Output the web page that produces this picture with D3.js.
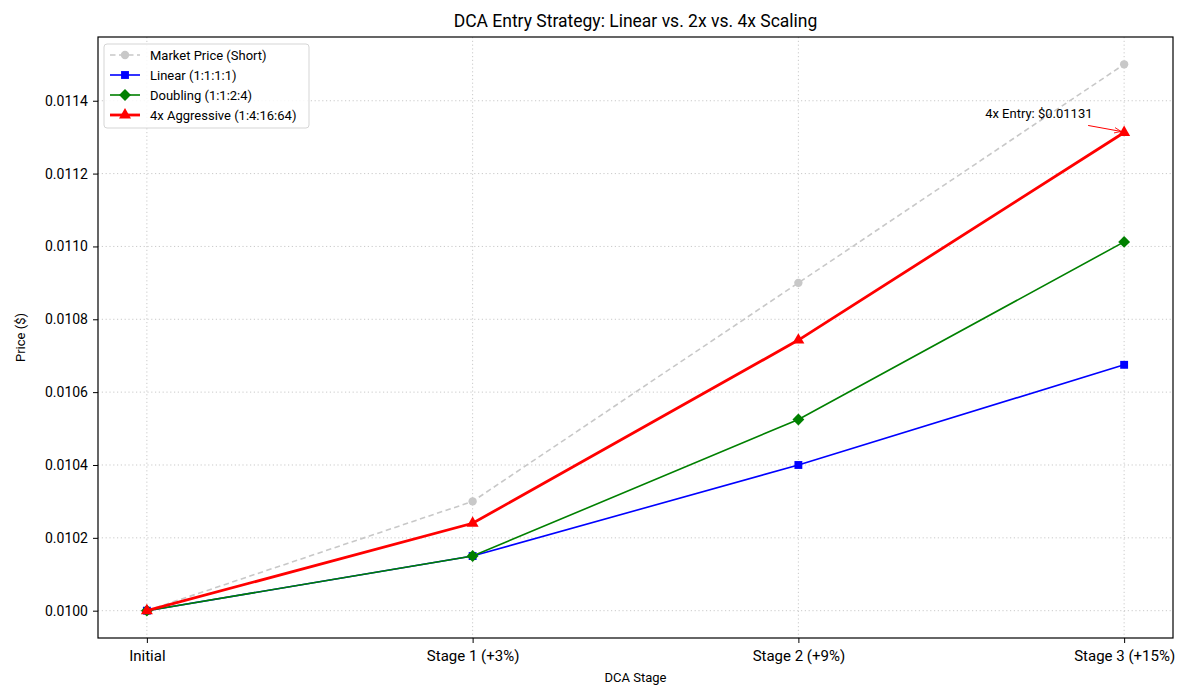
<!DOCTYPE html>
<html>
<head>
<meta charset="utf-8">
<script src="https://cdn.jsdelivr.net/npm/d3@7"></script>
<style>
  body { margin: 0; background: #fff; }
  text { font-family: Roboto, "Open Sans", sans-serif; fill: #000; }
  .grid line { stroke: #bdbdbd; stroke-dasharray: 1.2 2.6; stroke-width: 0.8; }
</style>
</head>
<body>
<div id="container"></div>
<script>
/* DATA */
const stages = ["Initial", "Stage 1 (+3%)", "Stage 2 (+9%)", "Stage 3 (+15%)"]
const marketPrice = [0.0100, 0.0103, 0.0109, 0.0115]
const linearAvg = [0.0100, 0.01015, 0.0104, 0.010675]
const doublingAvg = [0.0100, 0.01015, 0.010525, 0.0110125]
const aggressiveAvg = [0.0100, 0.01024, 0.0107429, 0.0113129]
const yTicks = [0.0100, 0.0102, 0.0104, 0.0106, 0.0108, 0.0110, 0.0112, 0.0114]

/* CONSTANTS */
const width = 1200, height = 700
const margin = { left: 98, right: 27, top: 37, bottom: 62 }

const svg = d3.select("#container")
  .append("svg")
  .attr("width", width)
  .attr("height", height)

// SCALES
const xScale = d3.scaleLinear()
  .domain([-0.15, 3.15])
  .range([margin.left, width - margin.right])

const yScale = d3.scaleLinear()
  .domain([0.009925, 0.011575])
  .range([height - margin.bottom, margin.top])

// GRID
svg.append("g")
  .attr("class", "grid")
  .selectAll("line.gx")
  .data(stages.map((d, i) => i))
  .join("line")
  .attr("x1", d => xScale(d)).attr("x2", d => xScale(d))
  .attr("y1", margin.top).attr("y2", height - margin.bottom)

svg.append("g")
  .attr("class", "grid")
  .selectAll("line.gy")
  .data(yTicks)
  .join("line")
  .attr("y1", d => yScale(d)).attr("y2", d => yScale(d))
  .attr("x1", margin.left).attr("x2", width - margin.right)

// SERIES
const series = [
  { name: "Market Price (Short)", values: marketPrice, color: "#c8c8c8", width: 1.6, dash: "5.5 3.5", marker: "circle", size: 55 },
  { name: "Linear (1:1:1:1)", values: linearAvg, color: "#0000ff", width: 1.6, dash: null, marker: "square", size: 62 },
  { name: "Doubling (1:1:2:4)", values: doublingAvg, color: "#008000", width: 1.6, dash: null, marker: "diamond", size: 90 },
  { name: "4x Aggressive (1:4:16:64)", values: aggressiveAvg, color: "#ff0000", width: 2.8, dash: null, marker: "triangle", size: 62 }
]

const symbolType = {
  circle: d3.symbolCircle,
  square: d3.symbolSquare,
  diamond: d3.symbolDiamond2,
  triangle: d3.symbolTriangle
}

const lineGen = d3.line()
  .x((d, i) => xScale(i))
  .y(d => yScale(d))

const plot = svg.append("g")

series.forEach(s => {
  plot.append("path")
    .attr("fill", "none")
    .attr("stroke", s.color)
    .attr("stroke-width", s.width)
    .attr("stroke-dasharray", s.dash)
    .attr("d", lineGen(s.values))

  plot.selectAll(null)
    .data(s.values)
    .join("path")
    .attr("transform", (d, i) => `translate(${xScale(i)},${yScale(d)})`)
    .attr("d", d3.symbol().type(symbolType[s.marker]).size(s.size))
    .attr("fill", s.color)
})

// ANNOTATION
svg.append("defs").append("marker")
  .attr("id", "arrow")
  .attr("viewBox", "0 0 10 10")
  .attr("refX", 10).attr("refY", 5)
  .attr("markerWidth", 7).attr("markerHeight", 7)
  .attr("orient", "auto")
  .append("path")
  .attr("d", "M0,1 L10,5 L0,9")
  .attr("fill", "none")
  .attr("stroke", "#ff0000")
  .attr("stroke-width", 1.2)

const annX = xScale(3), annY = yScale(aggressiveAvg[3])
svg.append("line")
  .attr("x1", annX - 36).attr("y1", annY - 7)
  .attr("x2", annX - 3).attr("y2", annY - 1)
  .attr("stroke", "#ff0000")
  .attr("stroke-width", 1)
  .attr("marker-end", "url(#arrow)")

svg.append("text")
  .attr("x", annX - 139)
  .attr("y", annY - 14)
  .attr("font-size", 13)
  .text("4x Entry: $" + aggressiveAvg[3].toFixed(5))

// AXES FRAME
svg.append("rect")
  .attr("x", margin.left).attr("y", margin.top)
  .attr("width", width - margin.left - margin.right)
  .attr("height", height - margin.top - margin.bottom)
  .attr("fill", "none")
  .attr("stroke", "#000")
  .attr("stroke-width", 1.2)

// X axis
const xAxis = d3.axisBottom(xScale)
  .tickValues([0, 1, 2, 3])
  .tickFormat(i => stages[i])
  .tickSize(5)
  .tickPadding(4)

const gx = svg.append("g")
  .attr("transform", `translate(0, ${height - margin.bottom})`)
  .call(xAxis)
gx.select(".domain").remove()
gx.selectAll("text").attr("font-size", 15).attr("dy", "0.95em")

// Y axis
const yAxis = d3.axisLeft(yScale)
  .tickValues(yTicks)
  .tickFormat(d3.format(".4f"))
  .tickSize(5)
  .tickPadding(5)

const gy = svg.append("g")
  .attr("transform", `translate(${margin.left}, 0)`)
  .call(yAxis)
gy.select(".domain").remove()
gy.selectAll("text").attr("font-size", 14)

// LABELS
svg.append("text")
  .attr("x", (margin.left + width - margin.right) / 2)
  .attr("y", 27)
  .attr("text-anchor", "middle")
  .attr("font-size", 17.5)
  .text("DCA Entry Strategy: Linear vs. 2x vs. 4x Scaling")

svg.append("text")
  .attr("x", (margin.left + width - margin.right) / 2)
  .attr("y", 682)
  .attr("text-anchor", "middle")
  .attr("font-size", 13)
  .text("DCA Stage")

svg.append("text")
  .attr("transform", "rotate(-90)")
  .attr("x", -(margin.top + height - margin.bottom) / 2)
  .attr("y", 25)
  .attr("text-anchor", "middle")
  .attr("font-size", 13)
  .text("Price ($)")

// LEGEND
const legend = svg.append("g")
  .attr("transform", `translate(${margin.left + 6}, ${margin.top + 7})`)

legend.append("rect")
  .attr("width", 205).attr("height", 84)
  .attr("rx", 3)
  .attr("fill", "#fff")
  .attr("fill-opacity", 0.85)
  .attr("stroke", "#d5d5d5")

series.forEach((s, i) => {
  const y = 11 + i * 20
  const row = legend.append("g").attr("transform", `translate(0, ${y})`)
  row.append("line")
    .attr("x1", 6).attr("x2", 36)
    .attr("stroke", s.color)
    .attr("stroke-width", s.width)
    .attr("stroke-dasharray", s.dash)
  row.append("path")
    .attr("transform", "translate(21, 0)")
    .attr("d", d3.symbol().type(symbolType[s.marker]).size(s.size))
    .attr("fill", s.color)
  row.append("text")
    .attr("x", 46)
    .attr("dy", "0.35em")
    .attr("font-size", 13)
    .text(s.name)
})
</script>
</body>
</html>
